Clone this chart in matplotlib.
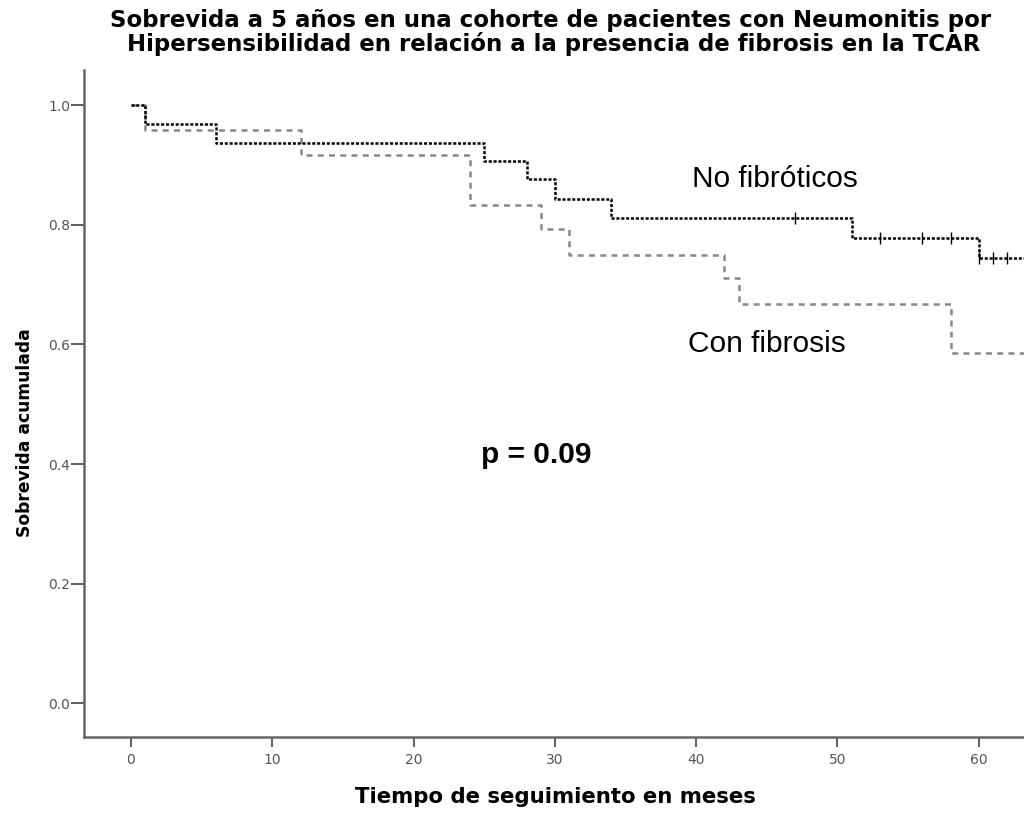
import numpy as np
import matplotlib.pyplot as plt

# Kaplan-Meier steps
nofib_times = [0, 1, 6, 25, 28, 30, 34, 51, 60]
nofib_surv = [1.0, 0.968, 0.937, 0.907, 0.876, 0.843, 0.812, 0.778, 0.744]
nofib_censor = [47, 53, 56, 58, 60, 61, 62]

fib_times = [0, 1, 12, 24, 29, 31, 42, 43, 58]
fib_surv = [1.0, 0.959, 0.917, 0.834, 0.793, 0.750, 0.711, 0.667, 0.585]

end_time = 64
y_ticks = [0.0, 0.2, 0.4, 0.6, 0.8, 1.0]
x_ticks = [0, 10, 20, 30, 40, 50, 60]

plt.rcParams['lines.scale_dashes'] = False

W, H = 1024, 816
fig = plt.figure(figsize=(W / 100, H / 100), dpi=100)

# axes box in pixels: left 84, right 1024, bottom 737, top 70
left, right, bottom, top = 84.3, 1024, 736.7, 70
ax = fig.add_axes([left / W, (H - bottom) / H, (right - left) / W, (bottom - top) / H])

# curves
ax.step(fib_times + [end_time], fib_surv + [fib_surv[-1]], where='post',
        color='#888888', lw=1.8, dashes=(4.3, 3.8))
ax.step(nofib_times + [end_time], nofib_surv + [nofib_surv[-1]], where='post',
        color='black', lw=1.8, dashes=(2.2, 1.3))

# censored marks
idx = np.searchsorted(nofib_times, nofib_censor, side='right') - 1
ax.plot(nofib_censor, np.array(nofib_surv)[idx], ls='none', marker='|',
        ms=8, mew=1.0, color='black')

ax.set_xlim(-3.3, 63.2)
ax.set_ylim(-0.0559, 1.059)
ax.set_xticks(x_ticks)
ax.set_yticks(y_ticks)
ax.set_yticklabels([f'{v:.1f}' for v in y_ticks])

for s in ['top', 'right']:
    ax.spines[s].set_visible(False)
for s in ['left', 'bottom']:
    ax.spines[s].set_color('#666666')
    ax.spines[s].set_linewidth(1.8)

ax.tick_params(axis='y', direction='out', length=9.5, width=1.2, color='#444444',
               pad=0.5, labelsize=10, labelcolor='#555555')
ax.tick_params(axis='x', direction='out', length=7.5, width=1.2, color='#444444',
               pad=4, labelsize=10, labelcolor='#555555')

# annotations
ax.text(39.7, 0.864, 'No fibróticos', fontsize=21.5, family='Liberation Sans',
        va='baseline', ha='left')
ax.text(39.4, 0.588, 'Con fibrosis', fontsize=21.5, family='Liberation Sans',
        va='baseline', ha='left')
ax.text(24.8, 0.401, 'p = 0.09', fontsize=21.5, family='Liberation Sans',
        fontweight='bold', va='baseline', ha='left')

# titles and axis labels
fig.text(551 / W, 1 - 21 / H,
         'Sobrevida a 5 años en una cohorte de pacientes con Neumonitis por',
         ha='center', va='center', fontsize=16.5, fontweight='bold',
         family='DejaVu Sans')
fig.text(554 / W, 1 - 44 / H,
         'Hipersensibilidad en relación a la presencia de fibrosis en la TCAR',
         ha='center', va='center', fontsize=16.5, fontweight='bold',
         family='DejaVu Sans')
fig.text(555 / W, 1 - 797 / H, 'Tiempo de seguimiento en meses',
         ha='center', va='center', fontsize=15.3, fontweight='bold',
         family='DejaVu Sans')
fig.text(25 / W, 1 - 433 / H, 'Sobrevida acumulada', rotation=90,
         ha='center', va='center', fontsize=12.3, fontweight='bold',
         family='DejaVu Sans')

fig.savefig('out.png', dpi=100)
